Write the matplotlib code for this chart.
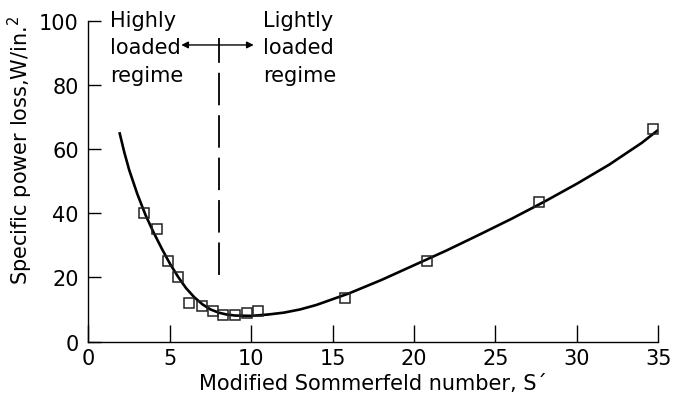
import matplotlib
matplotlib.use("Agg")
import matplotlib.pyplot as plt

plt.rcParams['font.family'] = ['DejaVu Sans']

# Measured data points (squares)
meas_x = [3.42, 4.19, 4.88, 5.48, 6.17, 6.95, 7.66, 8.25, 8.97, 9.74, 10.4, 15.74, 20.8, 27.7, 34.7]
meas_y = [40.2, 35.2, 25.0, 20.0, 11.9, 11.0, 9.5, 8.3, 8.3, 9.0, 9.6, 13.6, 25.1, 43.4, 66.2]

# Fitted curve
curve_x = [1.9, 2.2, 2.5, 3.0, 3.5, 4.0, 4.5, 5.0, 5.5, 6.0, 6.5, 7.0, 7.5, 8.0, 8.5, 9.0, 10, 11, 12, 13, 14, 15, 16, 18, 20, 22, 24, 26, 28, 30, 32, 34, 35]
curve_y = [65.3, 59.0, 53.5, 46.0, 39.5, 34.0, 29.0, 24.3, 20.2, 16.6, 13.8, 11.6, 10.0, 9.0, 8.4, 8.1, 8.0, 8.4, 9.0, 10.0, 11.4, 13.2, 15.0, 19.2, 23.8, 28.4, 33.3, 38.3, 43.6, 49.2, 55.2, 62.0, 66.0]

regime_boundary = 8
x_ticks = [0, 5, 10, 15, 20, 25, 30, 35]
y_ticks = [0, 20, 40, 60, 80, 100]

fig = plt.figure(figsize=(6.73, 4.06), dpi=100)
ax = fig.add_axes([0.1315, 0.1564, 0.978 - 0.1315, 0.946 - 0.1564])

ax.plot(curve_x, curve_y, color='black', lw=1.9, zorder=3, solid_capstyle='butt')
ax.plot(meas_x, meas_y, linestyle='none', marker='s', markersize=7.8,
        markerfacecolor='none', markeredgecolor='#222222', markeredgewidth=1.1, zorder=4)

ax.plot([regime_boundary, regime_boundary], [20.6, 94.7], color='black', lw=1.3,
        dashes=(18, 5.5), dash_capstyle='butt')
ax.annotate('', xy=(5.7, 92.5), xytext=(regime_boundary, 92.5),
            arrowprops=dict(arrowstyle='-|>', color='black', lw=1.0, mutation_scale=10,
                            shrinkA=0, shrinkB=0))
ax.annotate('', xy=(10.15, 92.5), xytext=(regime_boundary, 92.5),
            arrowprops=dict(arrowstyle='-|>', color='black', lw=1.0, mutation_scale=10,
                            shrinkA=0, shrinkB=0))

ax.text(1.3, 103.5, 'Highly\nloaded\nregime', fontsize=15, va='top', ha='left',
        linespacing=1.48)
ax.text(10.7, 103.5, 'Lightly\nloaded\nregime', fontsize=15, va='top', ha='left',
        linespacing=1.48)

ax.set_xlim(0, 35)
ax.set_ylim(0, 100)
ax.set_xticks(x_ticks)
ax.set_yticks(y_ticks)
for s in ['top', 'right']:
    ax.spines[s].set_visible(False)
for s in ['left', 'bottom']:
    ax.spines[s].set_linewidth(1.0)
ax.tick_params(axis='x', direction='in', length=12, width=1.0, labelsize=15, pad=5)
ax.tick_params(axis='y', direction='in', length=9, width=1.0, labelsize=15, pad=7)

ax.set_xlabel('Modified Sommerfeld number, S\u00b4', fontsize=15, labelpad=3)
ax.set_ylabel('Specific power loss,W/in.$^{2}$', fontsize=15)
ax.yaxis.set_label_coords(-0.094, 0.60)

fig.savefig('out.png', dpi=100)
